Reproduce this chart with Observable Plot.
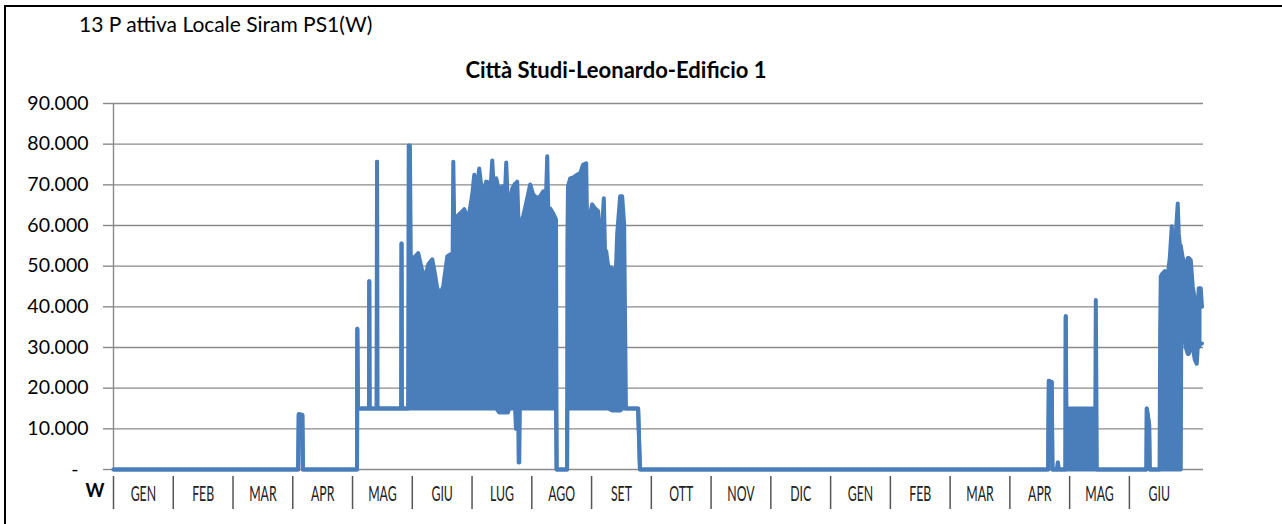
<!DOCTYPE html>
<html><head><meta charset="utf-8">
<script src="https://cdn.jsdelivr.net/npm/d3@7"></script>
<script src="https://cdn.jsdelivr.net/npm/@observablehq/plot@0.6"></script>
<style>
body{margin:0;background:#fff;font-family:Lato,sans-serif;}
#wrap{position:relative;width:1282px;height:524px;overflow:hidden;}
#frame{position:absolute;left:4px;top:5px;width:1300px;height:600px;border:2.5px solid #000;box-sizing:border-box;pointer-events:none;}
#head{height:90px;position:relative;}
#t1{position:absolute;left:79px;top:13px;font-size:21px;line-height:1;white-space:nowrap;}
#t2{position:absolute;left:0;width:1232px;text-align:center;top:59px;font-size:22px;line-height:1;font-weight:bold;white-space:nowrap;}
#chart svg{display:block;}
</style></head>
<body>
<div id="wrap">
  <div id="head">
    <div id="t1">13 P attiva Locale Siram PS1(W)</div>
    <div id="t2">Città Studi-Leonardo-Edificio 1</div>
  </div>
  <div id="chart"></div>
  <div id="frame"></div>
</div>
<script>
// Month categories (two consecutive years, Jan..Jun of the second)
const monthLabels = ["GEN","FEB","MAR","APR","MAG","GIU","LUG","AGO","SET","OTT","NOV","DIC","GEN","FEB","MAR","APR","MAG","GIU"];
const yTicks = [0,10000,20000,30000,40000,50000,60000,70000,80000,90000];

// Time position in months from start, with the lower and upper envelope of the power (W)
const tPos = [0,3.09,3.10,3.16,3.17,4.075,4.08,4.09,4.275,4.28,4.285,4.405,4.41,4.415,4.815,4.82,4.825,4.93,4.94,4.96,4.975,
 5.00,5.05,5.10,5.167,5.217,5.268,5.334,5.368,5.418,5.468,5.518,5.585,5.635,5.675,5.686,5.70,5.753,5.803,5.870,5.936,
 6.003,6.037,6.07,6.120,6.171,6.237,6.271,6.30,6.338,6.37,6.405,6.455,6.505,6.54,6.572,6.60,6.622,6.672,6.72,6.735,6.756,
 6.775,6.78,6.79,6.80,6.856,6.923,6.973,7.023,7.090,7.140,7.191,7.24,7.258,7.275,7.308,7.358,7.405,7.415,
 7.59,7.595,7.605,7.642,7.692,7.759,7.809,7.860,7.910,7.925,7.943,8.010,8.060,8.110,8.135,8.161,8.205,8.225,8.244,8.278,
 8.344,8.378,8.40,8.411,8.428,8.478,8.512,8.545,8.575,8.779,8.81,
 15.64,15.652,15.70,15.712,15.79,15.803,15.815,15.93,15.935,15.945,16.43,16.438,16.455,
 17.285,17.291,17.33,17.34,17.505,17.515,17.525,17.542,17.592,17.642,17.676,17.709,17.742,17.776,17.809,17.826,17.843,17.86,
 17.87,17.893,17.91,17.943,17.977,17.993,18.027,18.06,18.094,18.127,18.144,18.161,18.194,18.215];
const lowW = [0,0,13600,13400,0,0,34600,15000,15000,46300,15000,15000,75700,15000,15000,55600,15000,15000,15000,15000,15000,
 15000,15000,15000,15000,15000,15000,15000,15000,15000,15000,15000,15000,15000,15000,15000,15000,15000,15000,15000,15000,
 15000,15000,15000,15000,15000,15000,15000,15000,15000,15000,15000,14000,14000,14000,14000,14000,15000,15000,15000,10000,10000,
 10000,1700,1700,15000,15000,15000,15000,15000,15000,15000,15000,15000,15000,15000,15000,15000,15000,0,
 0,15000,15000,15000,15000,15000,15000,15000,15000,15000,15000,15000,15000,15000,15000,15000,15000,15000,15000,15000,
 14500,14500,14500,14500,14500,14500,15000,15000,15000,15000,0,
 0,21800,21500,0,0,1700,0,0,37700,0,0,0,0,
 0,15000,11000,0,0,0,0,0,0,0,0,0,0,0,0,0,0,0,
 44000,40000,34000,30000,28400,28400,30000,30000,27000,26000,30000,30000,31000,31000];
const highW = [0,0,13600,13400,0,0,34600,15000,15000,46300,15000,15000,75700,15000,15000,55600,15000,15000,79700,79700,52000,
 52000,52400,53200,48800,47500,50500,51700,49000,44600,43100,45100,52400,52900,52900,75700,62300,62300,63000,64000,61500,
 67600,72500,68000,74000,67600,70800,70600,67000,76000,67000,71600,68400,69600,64000,75500,64700,64700,69100,70300,70300,70800,
 62000,61000,60500,60300,62300,66700,70100,67600,66700,67200,68400,68400,77000,64200,64200,63000,61500,0,
 0,55000,69600,71600,71800,72500,72800,75000,75300,61000,60500,65200,64200,63500,56100,56100,66700,53700,53700,50000,
 49500,45100,45100,50500,57800,67200,67200,60300,15000,15000,0,
 0,21800,21500,0,0,1700,0,0,37700,15000,15000,41700,0,
 0,15000,11000,0,0,35000,47500,48000,48800,48000,52000,59800,52000,58000,65400,58000,55400,55000,
 54000,52000,51000,50000,52000,52000,51500,45000,42000,38000,40000,44600,44600,40000];

const rows = tPos.map((t, i) => ({t, lo: lowW[i], hi: highW[i]}));
const sepTicks = d3.range(0, 18);
const labelPos = d3.range(0, 18).map(d => d + 0.5);
const blue = "#4a7ebb";
const grid = "#8a8a8a";
const fmtY = d => d === 0 ? "-\u00a0\u00a0" : d3.format(",")(d).replace(/,/g, ".");

const plot = Plot.plot({
  width: 1282, height: 434,
  marginLeft: 113, marginRight: 79, marginTop: 13, marginBottom: 55,
  style: {fontFamily: "Lato, sans-serif", fontSize: "19px", background: "transparent", color: "#000", overflow: "visible"},
  x: {domain: [0, 18.24]},
  y: {domain: [0, 90000]},
  marks: [
    Plot.ruleY(yTicks, {stroke: grid, strokeWidth: 1.4}),
    Plot.ruleX([0], {stroke: grid, strokeWidth: 1.4}),
    Plot.axisY({ticks: yTicks, tickSize: 10, tickPadding: 15, tickFormat: fmtY, stroke: grid, strokeWidth: 1.4, label: null, fontSize: 19.5}),
    Plot.axisX(sepTicks, {tickSize: 33, dy: 7, tickFormat: () => "", stroke: "#555", strokeWidth: 1.5, label: null}),
    Plot.axisX(labelPos, {tickSize: 0, tickPadding: 17, tickFormat: d => monthLabels[Math.floor(d)], label: null, fontSize: 20.5, fill: "#222"}),
    Plot.areaY(rows, {x: "t", y1: "lo", y2: "hi", fill: blue}),
    Plot.line(rows, {x: "t", y: "hi", stroke: blue, strokeWidth: 4, strokeLinejoin: "round", strokeLinecap: "round"}),
    Plot.line(rows, {x: "t", y: "lo", stroke: blue, strokeWidth: 4, strokeLinejoin: "round", strokeLinecap: "round"}),
    Plot.text(["W"], {frameAnchor: "bottom-left", textAnchor: "end", dx: -9, dy: 27, fontWeight: "bold", fontSize: 18, text: d => d})
  ]
});
document.getElementById("chart").appendChild(plot);

// condense the month labels horizontally (narrow look of the original) without moving them
d3.select(plot).selectAll('g[aria-label="x-axis tick label"] text').each(function() {
  if (!this.textContent) return;
  const w = this.getComputedTextLength();
  this.setAttribute("textLength", (w * 0.6).toFixed(1));
  this.setAttribute("lengthAdjust", "spacingAndGlyphs");
});
</script>
</body></html>
